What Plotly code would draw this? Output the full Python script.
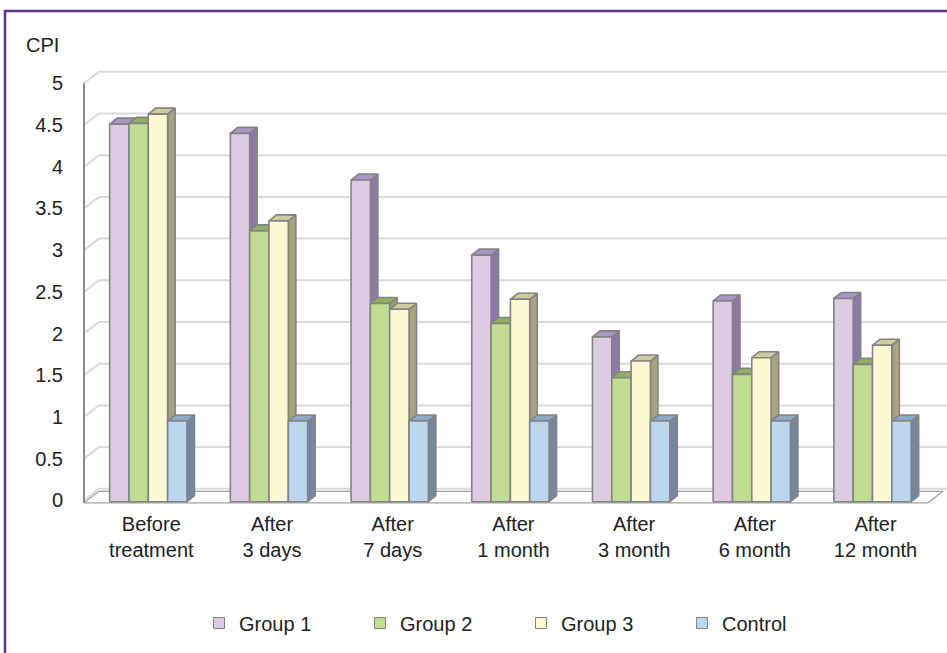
import plotly.graph_objects as go

# ---------------- data ----------------
categories = ["Before<br>treatment", "After<br>3 days", "After<br>7 days", "After<br>1 month",
              "After<br>3 month", "After<br>6 month", "After<br>12 month"]
group1 = [4.51, 4.40, 3.84, 2.94, 1.96, 2.39, 2.42]
group2 = [4.52, 3.23, 2.36, 2.12, 1.47, 1.51, 1.63]
group3 = [4.63, 3.35, 2.29, 2.41, 1.67, 1.71, 1.86]
control = [0.95, 0.95, 0.95, 0.95, 0.95, 0.95, 0.95]
series_names = ["Group 1", "Group 2", "Group 3", "Control"]
y_ticks = [0, 0.5, 1, 1.5, 2, 2.5, 3, 3.5, 4, 4.5, 5]
y_tick_labels = ["0", "0.5", "1", "1.5", "2", "2.5", "3", "3.5", "4", "4.5", "5"]
y_title = "CPI"

# ---------------- styles ----------------
FRONT = ["#dccbe3", "#c0dc91", "#fcf8d4", "#bcd6ee"]
SIDE = ["#8b7aa6", "#8ea864", "#a8a47e", "#74879e"]
TOP = ["#a996c4", "#8fb063", "#cfcb9f", "#8ea8c8"]
EDGE = "#838383"
GRID = "#dadada"
FONT = "Liberation Sans, Arial, sans-serif"
TXT = "#222222"

# ---------------- geometry (pixels -> data units) ----------------
W, H = 947, 653
ML, MR, MT, MB = 80, 0, 60, 143
PXX = 120.7          # px per category step
PXY = 83.4           # px per value unit
FIRST_CENTER_PX = 148.3
AXIS_PX = 84
Y0_PX = 500.3
plot_w = W - ML - MR
plot_h = H - MT - MB
x_lo = (ML - FIRST_CENTER_PX) / PXX
x_hi = x_lo + plot_w / PXX
y_lo = -((H - MB) - Y0_PX) / PXY
y_hi = (Y0_PX - MT) / PXY
x_axis = (AXIS_PX - FIRST_CENTER_PX) / PXX

GROUP_W = 77.3 / PXX
BAR_W = GROUP_W / 4
BASE = -0.017
DDX, DDY = 7.5 / PXX, 6 / PXY          # bar depth
WDX, WDY = 15 / PXX, 11.5 / PXY        # wall depth
FLOOR_V = -0.03
floor_right = (928 - FIRST_CENTER_PX) / PXX

fig = go.Figure()

# back wall gridlines
gx, gy = [], []
for v in y_ticks:
    gx += [x_axis, x_axis + WDX, x_hi + 1, None]
    gy += [v, v + WDY, v + WDY, None]
fig.add_trace(go.Scatter(x=gx, y=gy, mode="lines", line=dict(color=GRID, width=2),
                         hoverinfo="skip", showlegend=False))

# floor
fig.add_trace(go.Scatter(
    x=[x_axis, floor_right, floor_right + WDX, x_axis + WDX, x_axis],
    y=[FLOOR_V, FLOOR_V, FLOOR_V + WDY, FLOOR_V + WDY, FLOOR_V],
    mode="lines", fill="toself", fillcolor="white", line=dict(color="#a0a0a0", width=1.2),
    hoverinfo="skip", showlegend=False))

# left axis line
fig.add_trace(go.Scatter(x=[x_axis, x_axis], y=[FLOOR_V, 5], mode="lines",
                         line=dict(color="#8c8c8c", width=2), hoverinfo="skip", showlegend=False))

all_series = [group1, group2, group3, control]
for k, vals in enumerate(all_series):
    sx, sy, tx, ty, fx, fy = [], [], [], [], [], []
    for i, v in enumerate(vals):
        l = i - GROUP_W / 2 + k * BAR_W
        r = l + BAR_W
        sx += [r, r + DDX, r + DDX, r, r, None]
        sy += [BASE, BASE + DDY, v + DDY, v, BASE, None]
        tx += [l, r, r + DDX, l + DDX, l, None]
        ty += [v, v, v + DDY, v + DDY, v, None]
        fx += [l, r, r, l, l, None]
        fy += [BASE, BASE, v, v, BASE, None]
    fig.add_trace(go.Scatter(x=sx, y=sy, mode="lines", fill="toself", fillcolor=SIDE[k],
                             line=dict(color=EDGE, width=1.6), hoverinfo="skip", showlegend=False))
    fig.add_trace(go.Scatter(x=tx, y=ty, mode="lines", fill="toself", fillcolor=TOP[k],
                             line=dict(color=EDGE, width=1.6), hoverinfo="skip", showlegend=False))
    fig.add_trace(go.Scatter(x=fx, y=fy, mode="lines", fill="toself", fillcolor=FRONT[k],
                             line=dict(color=EDGE, width=1.6), hoverinfo="skip", showlegend=False,
                             name=series_names[k]))

# legend entries
for k, name in enumerate(series_names):
    fig.add_trace(go.Scatter(x=[None], y=[None], mode="markers", name=name,
                             marker=dict(symbol="square", size=11, color=FRONT[k],
                                         line=dict(color=EDGE, width=1))))

# frame
def px_to_paper_x(px):
    return (px - ML) / plot_w

def px_to_paper_y(py):
    return (H - MB - py) / plot_h

fig.add_shape(type="rect", xref="paper", yref="paper",
              x0=px_to_paper_x(5), x1=px_to_paper_x(W + 20),
              y0=px_to_paper_y(H + 20), y1=px_to_paper_y(11),
              line=dict(color="#5f3391", width=2.5), fillcolor="rgba(0,0,0,0)")

fig.add_annotation(text=y_title, xref="paper", yref="paper",
                   x=px_to_paper_x(24), y=px_to_paper_y(45), xanchor="left", yanchor="middle",
                   showarrow=False, font=dict(family=FONT, size=20, color=TXT))

fig.update_layout(
    width=W, height=H, autosize=False,
    margin=dict(l=ML, r=MR, t=MT, b=MB, pad=0),
    paper_bgcolor="white", plot_bgcolor="white",
    font=dict(family=FONT, size=20, color=TXT),
    showlegend=True,
    legend=dict(orientation="h", x=px_to_paper_x(199), y=px_to_paper_y(623),
                xanchor="left", yanchor="middle", entrywidth=116, entrywidthmode="pixels",
                font=dict(family=FONT, size=20, color=TXT), bgcolor="rgba(0,0,0,0)"),
    xaxis=dict(range=[x_lo, x_hi], tickvals=[i + 0.025 for i in range(len(categories))],
               ticktext=categories, showgrid=False, zeroline=False, showline=False,
               ticks="", tickfont=dict(family=FONT, size=20, color=TXT), fixedrange=True),
    yaxis=dict(range=[y_lo, y_hi], tickvals=y_ticks, ticktext=y_tick_labels,
               showgrid=False, zeroline=False, showline=False, ticks="",
               ticklabelstandoff=16, tickfont=dict(family=FONT, size=20, color=TXT),
               fixedrange=True),
)

fig.write_html("out.html", post_script="document.body.style.margin='0';",
               config={"displayModeBar": False})
